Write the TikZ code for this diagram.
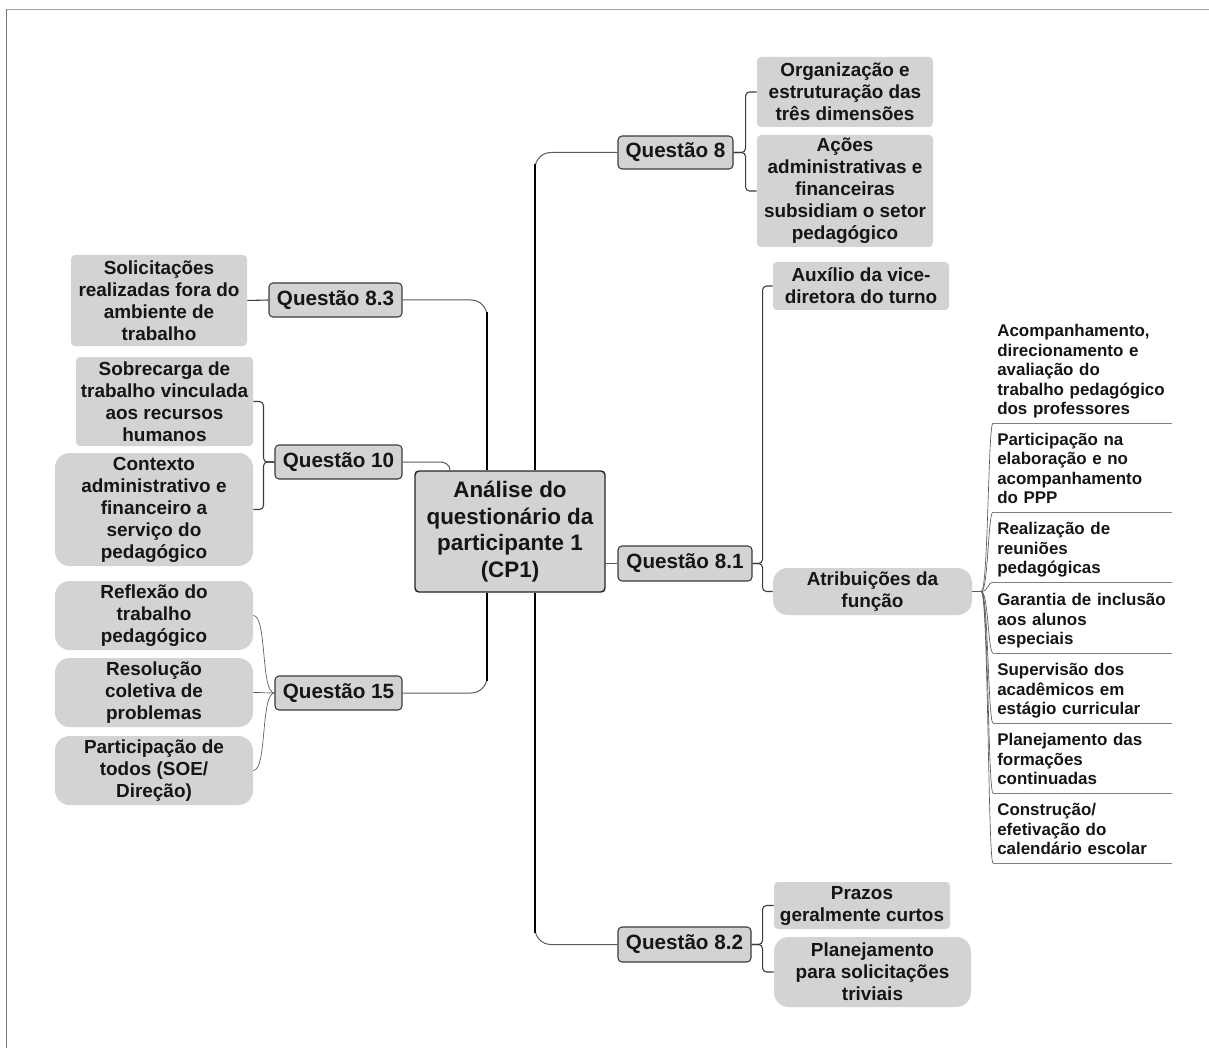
\documentclass[tikz,border=0pt]{standalone}
\usepackage{fontspec}
\setmainfont{Liberation Sans}
\usetikzlibrary{calc}
\definecolor{boxfill}{HTML}{D3D3D5}
\definecolor{boxline}{HTML}{3A3A3A}
\definecolor{txt}{HTML}{151515}
\definecolor{wire}{HTML}{5A5A5A}
\definecolor{framec}{HTML}{8C8C8C}
\tikzset{
  sz/.style 2 args={minimum width=#1*0.75pt, minimum height=#2*0.75pt},
  qbox/.style={draw=boxline, line width=0.8pt, fill=boxfill, rounded corners=3pt,
    align=center, inner sep=0pt, text=txt,
    font=\fontsize{15.5}{18}\selectfont\bfseries},
  rootbox/.style={qbox, line width=1.1pt, draw=black!85,
    font=\fontsize{16.8}{19.9}\selectfont\bfseries},
  leaf/.style={fill=boxfill, rounded corners=3pt, align=center, inner sep=0pt,
    text=txt, font=\fontsize{14.2}{16.5}\selectfont\bfseries},
  leafround/.style={leaf, rounded corners=11pt},
  item/.style={anchor=south west, text width=128pt, align=left,
    inner xsep=3pt, inner ysep=1.6pt, text=txt,
    execute at end node=\strut,
    font=\fontsize{12.7}{14.6}\selectfont\bfseries},
  branch/.style={draw=wire, line width=0.75pt},
  bracket/.style={draw=boxline, line width=0.8pt, rounded corners=3pt},
  trunk/.style={draw=black, line width=1.6pt},
  underline/.style={draw=gray, line width=0.75pt},
}
\begin{document}
\begin{tikzpicture}[x=0.75pt, y=-0.75pt]
\useasboundingbox (0,0) rectangle (1209,1048);

% page frame
\draw[framec!80!white, line width=0.9pt] (6.5,9.5) -- (1209,9.5);
\draw[framec!85!black, line width=1.3pt] (6.5,1048) -- (6.5,9.5);

% central topic
\node[rootbox, sz={190}{121}] (c) at (510,531.5)
  {Análise do\\questionário da\\participante 1\\(CP1)};

% right side
\node[qbox, sz={115}{33}] (q8) at (675.5,152.5) {Questão 8};
\node[leaf, sz={176}{70}] (org) at (845,92) {Organização e\\estruturação das\\três dimensões};
\node[leaf, sz={176}{112}] (acoes) at (845,191)
  {Ações\\administrativas e\\financeiras\\subsidiam o setor\\pedagógico};

\node[qbox, sz={134}{35}] (q81) at (685,563.5) {Questão 8.1};
\node[leaf, sz={176}{48}] (aux) at (861,286) {Auxílio da vice-\\diretora do turno};
\node[leafround, sz={199}{47}] (atr) at (872.5,591.5) {Atribuições da\\função};

\node[qbox, sz={133}{35}] (q82) at (684.5,944.5) {Questão 8.2};
\node[leaf, sz={176}{47}] (prazos) at (862,905.5) {Prazos\\geralmente curtos};
\node[leafround, sz={197}{70}] (plan) at (872.5,972) {Planejamento\\para solicitações\\triviais};

% left side
\node[qbox, sz={133}{34}] (q83) at (335.5,300) {Questão 8.3};
\node[leaf, sz={176}{91}] (solic) at (159,300.5)
  {Solicitações\\realizadas fora do\\ambiente de\\trabalho};

\node[qbox, sz={127}{34}] (q10) at (338.5,462) {Questão 10};
\node[leaf, sz={177}{89}] (sobre) at (164.5,401.5)
  {Sobrecarga de\\trabalho vinculada\\aos recursos\\humanos};
\node[leafround, sz={198}{113}] (ctx) at (154,509.5)
  {Contexto\\administrativo e\\financeiro a\\serviço do\\pedagógico};

\node[qbox, sz={127}{34}] (q15) at (338.5,693) {Questão 15};
\node[leafround, sz={198}{69}] (refl) at (154,615.5) {Reflexão do\\trabalho\\pedagógico};
\node[leafround, sz={198}{69}] (resol) at (154,692.5) {Resolução\\coletiva de\\problemas};
\node[leafround, sz={198}{69}] (part) at (154,770.5) {Participação de\\todos (SOE/\\Direção)};

% underlined items of "Atribuições da função"
\node[item] (i1) at (993,423) {Acompanhamento,\\direcionamento e\\avaliação do\\trabalho pedagógico\\dos professores};
\node[item] (i2) at (993,512) {Participação na\\elaboração e no\\acompanhamento\\do PPP};
\node[item] (i3) at (993,582) {Realização de\\reuniões\\pedagógicas};
\node[item] (i4) at (993,653) {Garantia de inclusão\\aos alunos\\especiais};
\node[item] (i5) at (993,723) {Supervisão dos\\acadêmicos em\\estágio curricular};
\node[item] (i6) at (993,793) {Planejamento das\\formações\\continuadas};
\node[item] (i7) at (993,863) {Construção/\\efetivação do\\calendário escolar};

% trunk attachment points on the central topic
\coordinate (rtop) at ($(c.north)+(25,0)$);
\coordinate (rbot) at ($(c.south)+(25,0)$);
\coordinate (ltop) at ($(c.north)+(-23,0)$);
\coordinate (lbot) at ($(c.south)+(-23,0)$);
\coordinate (q10in) at ($(c.north)+(-60,0)$);

% main branches
\draw[branch, rounded corners=12] (rtop) |- (q8.west);
\draw[trunk] (rtop) -- ($(rtop |- q8.west)+(0,12)$);
\draw[branch, rounded corners=12] (rbot) |- (q82.west);
\draw[trunk] (rbot) -- ($(rbot |- q82.west)+(0,-12)$);
\draw[branch, rounded corners=12] (ltop) |- (q83.east);
\draw[trunk] (ltop) -- ($(ltop |- q83.east)+(0,12)$);
\draw[branch, rounded corners=12] (lbot) |- (q15.east);
\draw[trunk] (lbot) -- ($(lbot |- q15.east)+(0,-12)$);
\draw[branch] (q10.east) -- ++(38,0) to[out=0, in=90] (q10in);
\draw[branch] (c.east |- q81.west) -- (q81.west);

% sub-branches
\draw[bracket] (q8.east) -- ++(12,0) |- (org.west);
\draw[bracket] (q8.east) -- ++(12,0) |- (acoes.west);
\draw[bracket] (q81.east) -- ++(10,0) |- (aux.west);
\draw[bracket] (q81.east) -- ++(10,0) |- (atr.west);
\draw[bracket] (q82.east) -- ++(11,0) |- (prazos.west);
\draw[bracket] (q82.east) -- ++(11,0) |- (plan.west);
\draw[bracket] (q10.west) -- ++(-11,0) |- (sobre.east);
\draw[bracket] (q10.west) -- ++(-11,0) |- (ctx.east);
\draw[bracket] (q83.west) -- (solic.east);

\foreach \t in {refl,resol,part}
  \draw[branch, line width=0.5pt] (q15.west) .. controls +(-14,0) and +(14,0) .. (\t.east);

\coordinate (hub) at ($(atr.east)+(9,0)$);
\draw[branch] (atr.east) -- (hub);
\foreach \t in {i1,i2,i3,i4,i5,i6,i7}{
  \draw[branch, line width=0.5pt] (hub) .. controls +(7,0) and +(-5,0) .. (\t.south west);
  \draw[underline] (\t.south west) -- (\t.south east);
}
\end{tikzpicture}
\end{document}
